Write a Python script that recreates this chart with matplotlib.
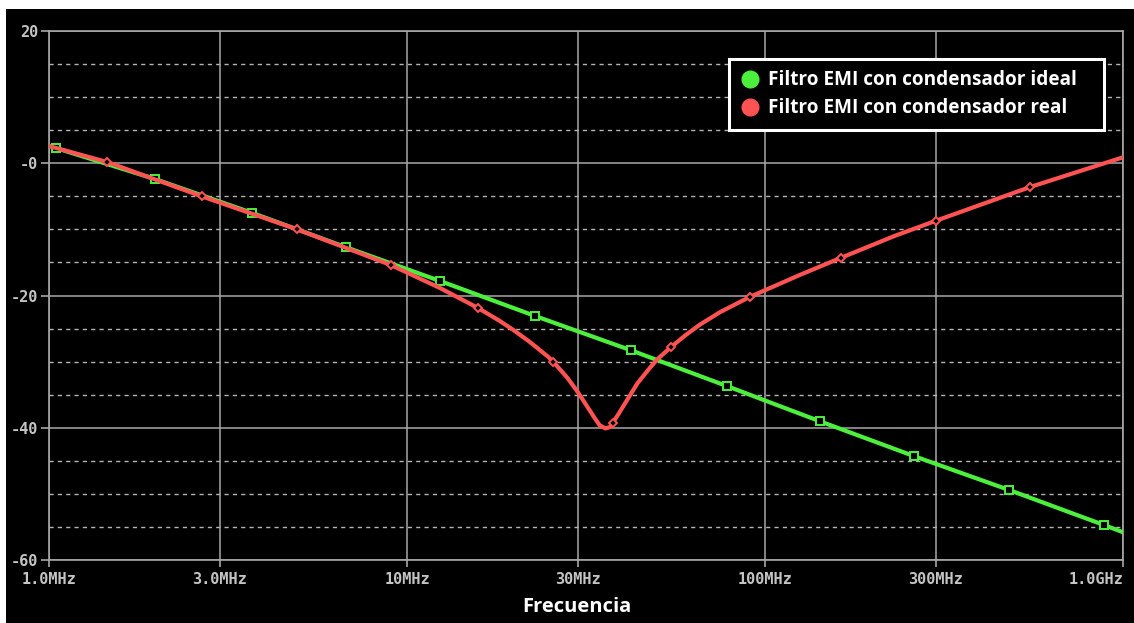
import matplotlib
matplotlib.use("Agg")
import matplotlib.pyplot as plt
from matplotlib.patches import Rectangle
from matplotlib.lines import Line2D

# frequencies in MHz, magnitude in dB
ideal_f = [1.0, 1.046, 1.98, 3.69, 6.75, 12.36, 22.8, 42.3, 78.3, 142, 261, 480, 884, 1000]
ideal_db = [2.65, 2.3, -2.4, -7.5, -12.7, -17.8, -23.1, -28.3, -33.7, -39.0, -44.3, -49.4, -54.7, -55.8]

real_f = [1.0, 1.45, 2.67, 4.93, 6.75, 9.02, 12.4, 15.8, 18.1, 19.8, 22.0, 24.7, 25.6,
          28.0, 30.0, 32.5, 33.5, 34.5, 35.8, 36.9, 37.5, 39.0, 41.2, 44.0, 47.1, 49.9, 54.6,
          60.0, 65.8, 75.0, 90.8, 125, 163, 230, 300, 550, 1000]
real_db = [2.6, 0.2, -5.0, -10.0, -12.8, -15.4, -18.9, -21.9, -23.8, -25.2, -27.0, -29.2, -30.0,
           -32.4, -34.6, -37.5, -38.6, -39.6, -40.1, -39.9, -39.3, -37.9, -35.8, -33.3, -31.3, -29.7, -27.8,
           -26.0, -24.4, -22.5, -20.2, -16.9, -14.3, -11.0, -8.7, -3.6, 0.9]

ideal_mark_f = ideal_f[1:-1]
ideal_mark_db = ideal_db[1:-1]
real_mark_f = [1.45, 2.67, 4.93, 9.02, 15.8, 25.6, 37.5, 54.6, 90.8, 163, 300, 550]
real_mark_db = [0.2, -5.0, -10.0, -15.4, -21.9, -30.0, -39.3, -27.8, -20.2, -14.3, -8.7, -3.6]

xticks = [1, 3, 10, 30, 100, 300, 1000]
xlabels = ['1.0MHz', '3.0MHz', '10MHz', '30MHz', '100MHz', '300MHz', '1.0GHz']
yticks = [-60, -40, -20, 0, 20]
ylabels = ['-60', '-40', '-20', '-0', '20']

green = '#4cf03c'
red = '#ff5252'
gray = '#a8a8a8'
W, H = 1134, 623

fig = plt.figure(figsize=(W / 100, H / 100), dpi=100, facecolor='white')
fig.add_artist(Rectangle((6 / W, 0), 1 - 6 / W, (H - 9) / H, transform=fig.transFigure,
                         facecolor='black', edgecolor='none', zorder=-10))
ax = fig.add_axes([49 / W, (H - 560) / H, (1123 - 49) / W, (560 - 31) / H])
ax.set_facecolor('black')

ax.set_xscale('log')
ax.set_xlim(1, 1000)
ax.set_ylim(-60, 20)
ax.set_xticks(xticks)
ax.set_xticklabels(xlabels)
ax.xaxis.set_minor_locator(matplotlib.ticker.NullLocator())
ax.set_yticks(yticks)
ax.set_yticklabels(ylabels)
ax.set_yticks([v for v in range(-55, 20, 5) if v % 20 != 0], minor=True)

for lab in ax.get_xticklabels() + ax.get_yticklabels():
    lab.set_family('DejaVu Sans Mono')
    lab.set_fontweight('bold')
    lab.set_color('#c4c4c4')
    lab.set_fontsize(11)
ax.get_xticklabels()[-1].set_horizontalalignment('right')

ax.tick_params(axis='x', which='major', length=5, width=1.2, color=gray, pad=4)
ax.tick_params(axis='y', which='major', length=6, width=1.2, color=gray, pad=2)
ax.tick_params(which='minor', length=0)
for s in ax.spines.values():
    s.set_color(gray)
    s.set_linewidth(1.2)

ax.grid(True, which='major', color=gray, linewidth=1.1, linestyle='-', zorder=0)
ax.grid(True, which='minor', axis='y', color='#b4b4b4', linewidth=1.0, linestyle=(0, (3, 3)), zorder=0)
ax.set_axisbelow(True)

ax.plot(ideal_f, ideal_db, color=green, linewidth=3.0, solid_capstyle='butt', zorder=3)
ax.plot(ideal_mark_f, ideal_mark_db, linestyle='none', marker='s', markersize=5.5,
        markerfacecolor='black', markeredgecolor=green, markeredgewidth=1.4, zorder=4)
ax.plot(real_f, real_db, color=red, linewidth=3.0, solid_joinstyle='round', zorder=5)
ax.plot(real_mark_f, real_mark_db, linestyle='none', marker='D', markersize=4.5,
        markerfacecolor='black', markeredgecolor=red, markeredgewidth=1.4, zorder=6)

handles = [Line2D([], [], linestyle='none', marker='o', markersize=12, color=green),
           Line2D([], [], linestyle='none', marker='o', markersize=12, color=red)]
leg = ax.legend(handles, ['Filtro EMI con condensador ideal', 'Filtro EMI con condensador real'],
                loc='upper left', bbox_to_anchor=(729 / W, 1 - 131 / H, 375 / W, 72 / H),
                bbox_transform=fig.transFigure, mode='expand', borderaxespad=0, fancybox=False,
                facecolor='black', edgecolor='white', framealpha=1,
                prop={'family': 'Open Sans', 'weight': 'bold', 'size': 13.7},
                handletextpad=0.45, handlelength=1.0, labelspacing=0.42,
                borderpad=0.6)
leg.get_frame().set_linewidth(2.2)
for t in leg.get_texts():
    t.set_color('white')

fig.text(577 / W, 1 - 607 / H, 'Frecuencia', ha='center', va='center', color='white',
         family='Open Sans', fontweight='bold', fontsize=14.5)

fig.savefig('out.png', dpi=100, facecolor='white')
